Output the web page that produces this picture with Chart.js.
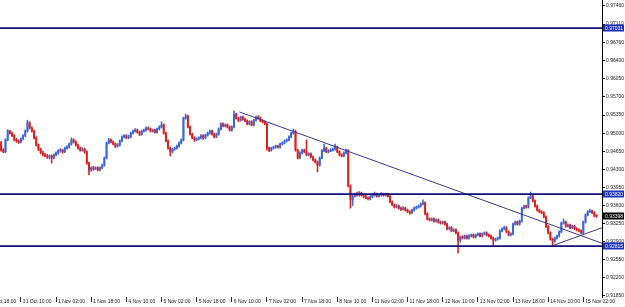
<!DOCTYPE html>
<html>
<head>
<meta charset="utf-8">
<script src="https://cdn.jsdelivr.net/npm/chart.js@4.4.1/dist/chart.umd.min.js"></script>
<style>
  html, body { margin: 0; padding: 0; background: #fff; }
  #wrap { width: 625px; height: 307px; }
</style>
</head>
<body>
<div id="wrap"><canvas id="chart" width="625" height="307"></canvas></div>
<script>
// H1 candles, one per bar index (0 = leftmost visible bar)
const opens = [
  .9481,.9467,.9464,.9487,.9504,.9500,.9495,.9487,.9485,.9483,
  .9489,.9495,.9504,.9520,.9510,.9504,.9491,.9477,.9469,.9462,
  .9458,.9456,.9454,.9456,.9452,.9458,.9462,.9466,.9467,.9464,
  .9471,.9473,.9479,.9487,.9483,.9477,.9471,.9467,.9469,.9464,
  .9442,.9429,.9433,.9431,.9433,.9429,.9433,.9438,.9452,.9481,
  .9487,.9483,.9479,.9475,.9477,.9485,.9493,.9495,.9491,.9493,
  .9500,.9504,.9506,.9502,.9498,.9504,.9506,.9510,.9508,.9504,
  .9506,.9502,.9508,.9512,.9516,.9500,.9485,.9471,.9464,.9469,
  .9471,.9475,.9481,.9487,.9529,.9533,.9512,.9498,.9491,.9487,
  .9489,.9491,.9495,.9491,.9496,.9500,.9504,.9498,.9493,.9498,
  .9508,.9518,.9514,.9516,.9512,.9506,.9512,.9537,.9529,.9525,
  .9531,.9527,.9524,.9518,.9522,.9516,.9525,.9531,.9529,.9524,
  .9522,.9518,.9471,.9467,.9471,.9473,.9475,.9473,.9479,.9481,
  .9485,.9487,.9493,.9500,.9504,.9467,.9452,.9462,.9467,.9464,
  .9458,.9460,.9454,.9448,.9444,.9438,.9452,.9466,.9471,.9464,
  .9466,.9467,.9469,.9473,.9464,.9458,.9456,.9462,.9466,.9398,
  .9371,.9378,.9382,.9380,.9384,.9380,.9378,.9375,.9373,.9377,
  .9380,.9382,.9378,.9380,.9382,.9380,.9382,.9378,.9367,.9361,
  .9357,.9359,.9355,.9353,.9355,.9351,.9348,.9346,.9351,.9355,
  .9357,.9359,.9363,.9365,.9344,.9334,.9332,.9334,.9330,.9332,
  .9328,.9326,.9328,.9324,.9315,.9317,.9311,.9313,.9307,.9293,
  .9299,.9297,.9301,.9297,.9301,.9303,.9299,.9303,.9305,.9301,
  .9305,.9307,.9303,.9301,.9297,.9293,.9295,.9297,.9311,.9315,
  .9317,.9309,.9303,.9305,.9324,.9328,.9324,.9330,.9355,.9359,
  .9357,.9375,.9378,.9369,.9359,.9351,.9348,.9346,.9338,.9319,
  .9307,.9295,.9291,.9297,.9301,.9309,.9326,.9328,.9320,.9322,
  .9317,.9320,.9315,.9313,.9311,.9307,.9328,.9342,.9348,.9349,
  .9346,.9340
];
const highs = [
  .9484,.9470,.9489,.9507,.9506,.9502,.9497,.9490,.9487,.9491,
  .9497,.9506,.9525,.9522,.9512,.9506,.9493,.9479,.9471,.9465,
  .9461,.9459,.9458,.9458,.9460,.9464,.9468,.9470,.9469,.9473,
  .9476,.9481,.9491,.9489,.9485,.9479,.9473,.9472,.9471,.9466,
  .9444,.9435,.9436,.9435,.9435,.9435,.9440,.9454,.9483,.9490,
  .9489,.9485,.9481,.9480,.9487,.9495,.9497,.9497,.9496,.9502,
  .9506,.9509,.9508,.9504,.9506,.9508,.9512,.9512,.9510,.9508,
  .9508,.9510,.9514,.9522,.9518,.9502,.9487,.9473,.9471,.9473,
  .9477,.9483,.9489,.9531,.9537,.9535,.9514,.9500,.9493,.9491,
  .9493,.9497,.9497,.9498,.9502,.9506,.9506,.9500,.9500,.9510,
  .9520,.9520,.9518,.9518,.9514,.9514,.9543,.9539,.9531,.9533,
  .9533,.9529,.9526,.9524,.9524,.9527,.9533,.9534,.9531,.9526,
  .9524,.9520,.9473,.9473,.9475,.9477,.9477,.9481,.9483,.9487,
  .9489,.9495,.9502,.9508,.9506,.9469,.9464,.9469,.9469,.9487,
  .9462,.9462,.9456,.9450,.9446,.9454,.9468,.9479,.9473,.9468,
  .9470,.9471,.9479,.9475,.9466,.9460,.9464,.9469,.9468,.9400,
  .9380,.9384,.9386,.9387,.9386,.9382,.9380,.9377,.9379,.9382,
  .9386,.9384,.9382,.9385,.9384,.9384,.9384,.9380,.9369,.9363,
  .9362,.9361,.9357,.9358,.9357,.9353,.9350,.9353,.9357,.9359,
  .9361,.9365,.9371,.9367,.9346,.9336,.9336,.9336,.9334,.9334,
  .9330,.9330,.9330,.9326,.9319,.9319,.9315,.9315,.9309,.9301,
  .9302,.9303,.9303,.9304,.9305,.9305,.9305,.9307,.9307,.9307,
  .9309,.9309,.9305,.9303,.9299,.9297,.9299,.9313,.9317,.9320,
  .9319,.9311,.9307,.9326,.9330,.9330,.9332,.9357,.9361,.9361,
  .9377,.9386,.9380,.9371,.9361,.9353,.9350,.9348,.9340,.9321,
  .9309,.9297,.9299,.9303,.9311,.9328,.9334,.9330,.9324,.9324,
  .9322,.9322,.9317,.9315,.9313,.9330,.9344,.9350,.9353,.9351,
  .9348,.9342
];
const lows = [
  .9465,.9462,.9462,.9485,.9498,.9493,.9485,.9482,.9480,.9481,
  .9487,.9493,.9502,.9508,.9502,.9489,.9475,.9466,.9460,.9456,
  .9454,.9451,.9450,.9442,.9450,.9456,.9459,.9463,.9461,.9462,
  .9469,.9471,.9477,.9481,.9475,.9469,.9465,.9465,.9461,.9440,
  .9419,.9426,.9428,.9429,.9427,.9427,.9431,.9436,.9450,.9479,
  .9481,.9477,.9472,.9473,.9475,.9483,.9491,.9489,.9489,.9491,
  .9498,.9502,.9500,.9495,.9496,.9502,.9504,.9506,.9502,.9502,
  .9500,.9500,.9506,.9510,.9498,.9483,.9469,.9456,.9462,.9467,
  .9469,.9473,.9479,.9485,.9527,.9510,.9496,.9489,.9484,.9485,
  .9487,.9489,.9488,.9489,.9494,.9498,.9496,.9491,.9491,.9496,
  .9506,.9512,.9512,.9510,.9504,.9504,.9510,.9527,.9522,.9523,
  .9525,.9522,.9516,.9516,.9514,.9514,.9523,.9527,.9522,.9520,
  .9516,.9467,.9464,.9465,.9469,.9471,.9471,.9471,.9477,.9479,
  .9483,.9485,.9491,.9498,.9465,.9450,.9450,.9460,.9462,.9456,
  .9456,.9452,.9446,.9442,.9425,.9436,.9450,.9464,.9462,.9462,
  .9464,.9465,.9467,.9462,.9456,.9454,.9454,.9460,.9396,.9355,
  .9360,.9376,.9378,.9378,.9378,.9375,.9373,.9371,.9371,.9375,
  .9378,.9376,.9376,.9378,.9378,.9378,.9376,.9365,.9359,.9355,
  .9355,.9353,.9350,.9351,.9349,.9346,.9343,.9344,.9349,.9353,
  .9355,.9357,.9361,.9342,.9332,.9330,.9330,.9328,.9328,.9326,
  .9324,.9324,.9322,.9313,.9313,.9309,.9309,.9305,.9268,.9289,
  .9295,.9295,.9295,.9295,.9299,.9297,.9297,.9301,.9299,.9299,
  .9303,.9301,.9299,.9295,.9282,.9291,.9293,.9295,.9309,.9313,
  .9307,.9301,.9301,.9303,.9322,.9322,.9322,.9328,.9353,.9355,
  .9355,.9373,.9367,.9357,.9349,.9346,.9344,.9336,.9317,.9305,
  .9293,.9282,.9289,.9295,.9299,.9307,.9324,.9318,.9318,.9315,
  .9315,.9313,.9311,.9309,.9305,.9305,.9326,.9340,.9346,.9344,
  .9338,.9337
];
const closes = [
  .9467,.9464,.9487,.9504,.9500,.9495,.9487,.9485,.9483,.9489,
  .9495,.9504,.9520,.9510,.9504,.9491,.9477,.9469,.9462,.9458,
  .9456,.9454,.9456,.9452,.9458,.9462,.9466,.9467,.9464,.9471,
  .9473,.9479,.9487,.9483,.9477,.9471,.9467,.9469,.9464,.9442,
  .9429,.9433,.9431,.9433,.9429,.9433,.9438,.9452,.9481,.9487,
  .9483,.9479,.9475,.9477,.9485,.9493,.9495,.9491,.9493,.9500,
  .9504,.9506,.9502,.9498,.9504,.9506,.9510,.9508,.9504,.9506,
  .9502,.9508,.9512,.9516,.9500,.9485,.9471,.9464,.9469,.9471,
  .9475,.9481,.9487,.9529,.9533,.9512,.9498,.9491,.9487,.9489,
  .9491,.9495,.9491,.9496,.9500,.9504,.9498,.9493,.9498,.9508,
  .9518,.9514,.9516,.9512,.9506,.9512,.9537,.9529,.9525,.9531,
  .9527,.9524,.9518,.9522,.9516,.9525,.9531,.9529,.9524,.9522,
  .9518,.9471,.9467,.9471,.9473,.9475,.9473,.9479,.9481,.9485,
  .9487,.9493,.9500,.9504,.9467,.9452,.9462,.9467,.9464,.9458,
  .9460,.9454,.9448,.9444,.9438,.9452,.9466,.9471,.9464,.9466,
  .9467,.9469,.9473,.9464,.9458,.9456,.9462,.9466,.9398,.9371,
  .9378,.9382,.9380,.9384,.9380,.9378,.9375,.9373,.9377,.9380,
  .9382,.9378,.9380,.9382,.9380,.9382,.9378,.9367,.9361,.9357,
  .9359,.9355,.9353,.9355,.9351,.9348,.9346,.9351,.9355,.9357,
  .9359,.9363,.9365,.9344,.9334,.9332,.9334,.9330,.9332,.9328,
  .9326,.9328,.9324,.9315,.9317,.9311,.9313,.9307,.9293,.9299,
  .9297,.9301,.9297,.9301,.9303,.9299,.9303,.9305,.9301,.9305,
  .9307,.9303,.9301,.9297,.9293,.9295,.9297,.9311,.9315,.9317,
  .9309,.9303,.9305,.9324,.9328,.9324,.9330,.9355,.9359,.9357,
  .9375,.9378,.9369,.9359,.9351,.9348,.9346,.9338,.9319,.9307,
  .9295,.9291,.9297,.9301,.9309,.9326,.9328,.9320,.9322,.9317,
  .9320,.9315,.9313,.9311,.9307,.9328,.9342,.9348,.9349,.9346,
  .9340,.93398
];

// time axis: bar index of each label and its text
const timeTickBars = [-7, 9, 25, 41, 57, 73, 89, 105, 121, 137, 153, 169, 185, 201, 217, 233, 249, 265];
const timeTickLabels = [
  '30 Oct 18:00', '31 Oct 10:00', '1 Nov 02:00', '1 Nov 18:00', '4 Nov 10:00', '5 Nov 02:00',
  '5 Nov 18:00', '6 Nov 10:00', '7 Nov 02:00', '7 Nov 18:00', '8 Nov 10:00', '11 Nov 02:00',
  '11 Nov 18:00', '12 Nov 10:00', '13 Nov 02:00', '13 Nov 18:00', '14 Nov 10:00', '15 Nov 02:00'
];

// price axis
const priceTicks = [
  0.97460, 0.97110, 0.96760, 0.96400, 0.96050, 0.95700, 0.95350, 0.95000, 0.94650,
  0.94300, 0.93950, 0.93600, 0.93250, 0.92900, 0.92550, 0.92200, 0.91850
];
const levelPrices = [0.97031, 0.93820, 0.92815];
const lastPrice = 0.93398;

// trend lines: [bar index, price] end points
const trendDown = [[108.5, 0.9541], [273.5, 0.9287]];
const trendUp = [[250.8, 0.9282], [273.5, 0.9317]];

const xRange = [-0.5, 273.5];
const yRange = [0.91830, 0.97576];

const BULL = '#3a66d8';
const BEAR = '#dc2020';
const LEVEL = '#11117a';
const TREND = '#3a3a8e';
const FONT = 'Liberation Sans, Arial, sans-serif';

const candleColors = closes.map((c, i) => (c >= opens[i] ? BULL : BEAR));

const datasets = [
  {
    type: 'bar',
    data: closes.map((c, i) => ({ x: i, y: [lows[i], highs[i]] })),
    backgroundColor: candleColors,
    barThickness: 0.9,
    grouped: false,
    order: 3,
  },
  {
    type: 'bar',
    data: closes.map((c, i) => ({ x: i, y: [opens[i], c] })),
    backgroundColor: candleColors,
    barThickness: 1.3,
    minBarLength: 1,
    grouped: false,
    order: 2,
  },
  ...levelPrices.map(p => ({
    type: 'line',
    data: [{ x: xRange[0], y: p }, { x: xRange[1], y: p }],
    borderColor: LEVEL,
    borderWidth: 1.6,
    pointRadius: 0,
    order: 0,
  })),
  ...[trendDown, trendUp].map(t => ({
    type: 'line',
    data: t.map(pt => ({ x: pt[0], y: pt[1] })),
    borderColor: TREND,
    borderWidth: 1,
    pointRadius: 0,
    order: 1,
  })),
];

// coloured price boxes on the right axis
const priceBoxes = {
  id: 'priceBoxes',
  afterDraw(chart) {
    const ys = chart.scales.y;
    const ctx = chart.ctx;
    const draw = (p, bg) => {
      const py = Math.round(ys.getPixelForValue(p));
      ctx.save();
      ctx.fillStyle = bg;
      ctx.fillRect(ys.left + 1, py - 3.5, ys.width - 2, 7);
      ctx.fillStyle = '#fff';
      ctx.font = '5px ' + FONT;
      ctx.textAlign = 'left';
      ctx.textBaseline = 'middle';
      ctx.fillText(p.toFixed(5), ys.left + 3, py + 0.5);
      ctx.restore();
    };
    levelPrices.forEach(p => draw(p, '#1d30c4'));
    draw(lastPrice, '#000');
  }
};

new Chart(document.getElementById('chart'), {
  type: 'bar',
  data: { datasets },
  plugins: [priceBoxes],
  options: {
    responsive: false,
    animation: false,
    events: [],
    layout: { padding: 0 },
    plugins: { legend: { display: false }, tooltip: { enabled: false } },
    scales: {
      x: {
        type: 'linear',
        min: xRange[0],
        max: xRange[1],
        offset: false,
        afterBuildTicks: s => { s.ticks = timeTickBars.map(v => ({ value: v })); },
        afterFit: s => { s.height = 10; s.paddingLeft = 0; s.paddingRight = 0; },
        grid: { offset: false, drawOnChartArea: false, drawTicks: true, tickLength: 5, color: '#333' },
        border: { display: false },
        ticks: {
          autoSkip: false, maxRotation: 0, minRotation: 0,
          align: 'start', labelOffset: 2, padding: -3,
          color: '#222', font: { family: FONT, size: 5 },
          callback: (v, i) => timeTickLabels[i],
        },
      },
      y: {
        type: 'linear',
        position: 'right',
        min: yRange[0],
        max: yRange[1],
        afterBuildTicks: s => { s.ticks = priceTicks.map(v => ({ value: v })); },
        afterFit: s => { s.width = 23; s.paddingTop = 0; s.paddingBottom = 0; },
        grid: { drawOnChartArea: false, tickLength: 3, color: '#000' },
        border: { display: true, color: '#000', width: 1 },
        ticks: {
          padding: 1, color: '#222', font: { family: FONT, size: 5 },
          callback: v => v.toFixed(5),
        },
      },
    },
  },
});
</script>
</body>
</html>
